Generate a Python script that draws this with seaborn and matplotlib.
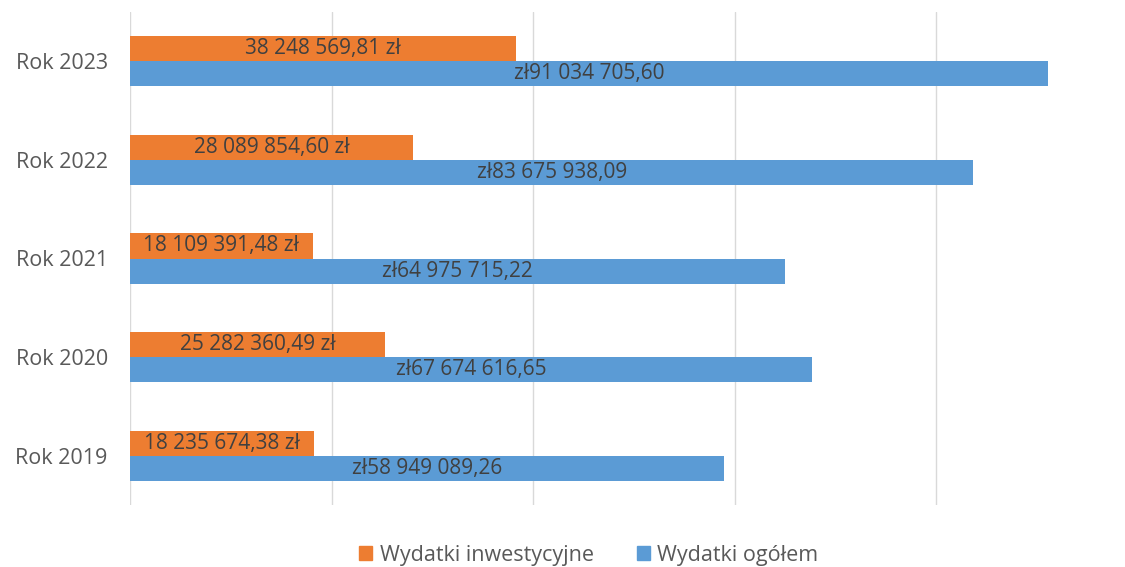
import pandas as pd
import matplotlib.pyplot as plt
import seaborn as sns

# Data
years = ["Rok 2023", "Rok 2022", "Rok 2021", "Rok 2020", "Rok 2019"]
invest = [38248569.81, 28089854.60, 18109391.48, 25282360.49, 18235674.38]
total = [91034705.60, 83675938.09, 64975715.22, 67674616.65, 58949089.26]
invest_labels = ["38 248 569,81 zł", "28 089 854,60 zł", "18 109 391,48 zł",
                 "25 282 360,49 zł", "18 235 674,38 zł"]
total_labels = ["zł91 034 705,60", "zł83 675 938,09", "zł64 975 715,22",
                "zł67 674 616,65", "zł58 949 089,26"]
series = ["Wydatki inwestycyjne", "Wydatki ogółem"]
colors = ["#ED7D31", "#5B9BD5"]

df = pd.DataFrame({
    "rok": years * 2,
    "seria": [series[0]] * len(years) + [series[1]] * len(years),
    "kwota": invest + total,
})

sns.set_style("white")
plt.rcParams["font.family"] = ["Open Sans", "DejaVu Sans"]

fig = plt.figure(figsize=(11.25, 5.67), dpi=100)
ax = fig.add_axes([130 / 1125, 62 / 567, 995 / 1125, 493 / 567])

sns.barplot(data=df, y="rok", x="kwota", hue="seria", order=years,
            hue_order=series, palette=colors, width=0.51, orient="h",
            saturation=1, linewidth=0, ax=ax, legend=True)

for cont, labs in zip(ax.containers, [invest_labels, total_labels]):
    ax.bar_label(cont, labels=labs, label_type="center", fontsize=15,
                 color="#404040")

ax.set_xlim(0, 995 / 10.08 * 1e6)
ax.set_ylim(4.5, -0.5)
ax.set_xticks([0, 20e6, 40e6, 60e6, 80e6])
ax.set_xticklabels([])
ax.xaxis.grid(True, color="#d9d9d9", linewidth=1)
ax.set_axisbelow(True)
ax.tick_params(axis="both", length=0)
ax.tick_params(axis="y", labelsize=15.5, colors="#595959", pad=16)
ax.set_xlabel("")
ax.set_ylabel("")
for s in ax.spines.values():
    s.set_visible(False)

ax.legend_.remove()
handles = [plt.Rectangle((0, 0), 1, 1, color=c) for c in colors]
fig.legend(handles, series, loc="center", bbox_to_anchor=(589 / 1125, 1 - 555 / 567),
           ncol=2, frameon=False, fontsize=15.5, handlelength=0.6, handleheight=0.6,
           handletextpad=0.35, columnspacing=2.0, labelcolor="#595959",
           borderpad=0.2)

fig.savefig("out.png", dpi=100)
